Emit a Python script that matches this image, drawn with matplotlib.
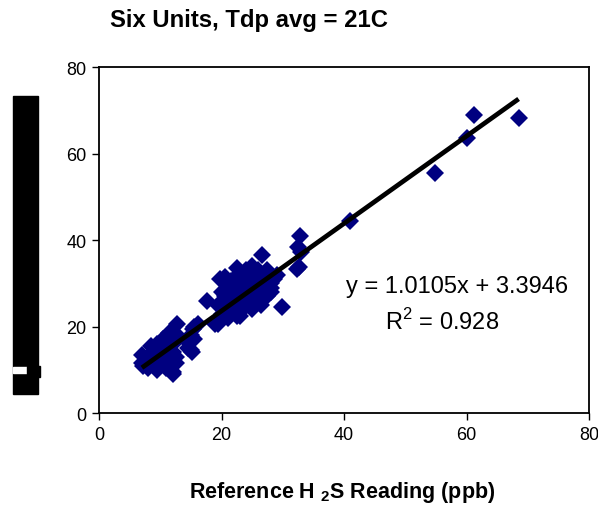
import matplotlib
matplotlib.use("Agg")
import matplotlib.pyplot as plt
from matplotlib.patches import Rectangle

plt.rcParams["font.family"] = ["Liberation Sans", "DejaVu Sans"]
plt.rcParams["mathtext.fontset"] = "custom"
plt.rcParams["mathtext.rm"] = "Liberation Sans"
plt.rcParams["mathtext.bf"] = "Liberation Sans:bold"

# Leituras (ppb)
ref_x = [
    7, 7, 7.2, 7.5, 8, 8, 8.5, 9, 9, 9, 9.5, 9.5, 10, 10, 10, 10.5, 10.5,
    11, 11, 11, 11.5, 11.5, 12, 12, 12, 12.1, 12.5, 12.5, 12.7, 13, 8.5,
    14.5, 14.5, 15, 15.2, 15.3, 15.5, 15.5, 15, 16.2,
    17.6, 19, 19.4, 19.5, 19.8, 20, 20, 20.5, 21, 21, 21, 21.5, 21.5, 22,
    22, 22, 22.5, 22.5, 23, 23, 23, 23, 23.5, 23.5, 24, 24, 24, 24.5, 24.5,
    25, 25, 25, 25.5, 25.5, 26, 26, 26, 26.6, 26.5, 27, 27, 27.5, 27.5,
    28, 28, 28.5, 29, 29.9, 20.5, 21.5, 22.5, 24, 25, 26.5, 27, 28,
    32.3, 32.5, 32.8, 33, 32.7,
    41, 54.8, 60, 61.2, 68.5,
]
unit_y = [
    11.5, 13.5, 10.9, 12, 10.5, 13, 15.5, 11, 12.5, 14, 10, 16, 11.5, 13, 14.5, 12, 17,
    10.5, 13.5, 15, 12, 18.5, 9.5, 14, 16, 9, 11.5, 13, 20.5, 17.5, 12.5,
    15, 16.5, 18, 14.1, 19.4, 17, 20, 14.5, 20.6,
    26, 20.5, 20.6, 25, 31, 23, 28, 31.5, 22, 26, 29.5, 24, 30.5, 27,
    25, 31, 22.5, 29, 26, 28, 32, 22.4, 24, 30, 27, 33, 25.5, 29, 31,
    24, 27.5, 32.5, 29.5, 26, 30.5, 33, 28, 36.5, 25, 29, 31.5, 27, 33,
    30, 28, 31, 32, 24.5, 27, 28, 33.5, 30, 34, 27, 30, 29,
    33.3, 38.3, 40.9, 37.3, 33.8,
    44.4, 55.5, 63.7, 68.8, 68.2,
]

SLOPE = 1.0105
INTERCEPT = 3.3946
R2 = 0.928

fig = plt.figure(figsize=(5.98, 5.06), dpi=100)
ax = fig.add_axes([0.1656, 0.1818, 0.8194, 0.6838])

ax.plot(ref_x, unit_y, linestyle="none", marker="D", markersize=9.5,
        color="#000080", markeredgewidth=0)

x0, x1 = min(ref_x), max(ref_x)
ax.plot([x0, x1], [SLOPE * x0 + INTERCEPT, SLOPE * x1 + INTERCEPT],
        color="black", linewidth=3.4, solid_capstyle="butt")

ax.set_xlim(0, 80)
ax.set_ylim(0, 80)
ax.set_xticks([0, 20, 40, 60, 80])
ax.set_yticks([0, 20, 40, 60, 80])
ax.tick_params(direction="out", length=5, width=1, labelsize=13, pad=4)
for sp in ax.spines.values():
    sp.set_linewidth(1.3)

ax.text(0.73, 0.367, f"y = {SLOPE}x + {INTERCEPT}", transform=ax.transAxes,
        ha="center", va="center", fontsize=17)
ax.text(0.70, 0.266, f"R$^2$ = {R2}", transform=ax.transAxes,
        ha="center", va="center", fontsize=17)

fig.text(110 / 598, 1 - 21 / 506, "Six Units, Tdp avg = 21C",
         ha="left", va="center", fontsize=17.2, fontweight="bold")
fig.text(342 / 598, 1 - 493 / 506, r"Reference H $_{\mathbf{2}}$S Reading (ppb)",
         ha="center", va="center", fontsize=15.5, fontweight="bold")

# bloco preto no lugar do rótulo do eixo y
fig.patches.append(Rectangle((13 / 598, 1 - 395 / 506), 25 / 598, 298 / 506,
                             transform=fig.transFigure, color="black"))
fig.patches.append(Rectangle((13 / 598, 1 - 374 / 506), 14 / 598, 6 / 506,
                             transform=fig.transFigure, color="white"))
fig.patches.append(Rectangle((27 / 598, 1 - 378 / 506), 13 / 598, 11 / 506,
                             transform=fig.transFigure, color="black"))

plt.savefig("out.png", dpi=100)
plt.close()
